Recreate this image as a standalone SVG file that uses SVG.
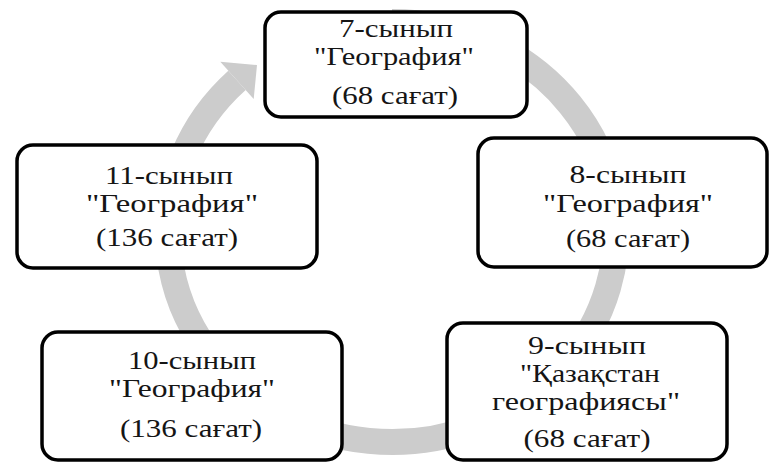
<svg xmlns="http://www.w3.org/2000/svg" width="769" height="463" viewBox="0 0 769 463">
<style>
.box{fill:#ffffff;stroke:#000000;stroke-width:3.5}
.t{font-family:"Liberation Serif","Times New Roman",serif;font-size:25px;fill:#151515;text-anchor:middle}
.ring{fill:none;stroke:#cccccc;stroke-width:26}
.head{fill:#cccccc}
</style>
<rect width="769" height="463" fill="#ffffff"/>
<g id="connectors">
<path class="ring" d="M 392 22 A 224 210 0 1 1 237 80.4"/>
<polygon class="head" points="220.3,61.8 257,65 253.7,99"/>
</g>
<g id="node7">
<rect class="box" x="265" y="12" width="262" height="105" rx="16"/>
<text class="t" x="396" y="37" textLength="114" lengthAdjust="spacingAndGlyphs">7-сынып</text>
<text class="t" x="394" y="65" textLength="160" lengthAdjust="spacingAndGlyphs">"География"</text>
<text class="t" x="395" y="104" textLength="126" lengthAdjust="spacingAndGlyphs">(68 сағат)</text>
</g>
<g id="node8">
<rect class="box" x="478" y="138" width="289" height="129" rx="16"/>
<text class="t" x="628" y="183" textLength="117" lengthAdjust="spacingAndGlyphs">8-сынып</text>
<text class="t" x="628" y="212" textLength="170" lengthAdjust="spacingAndGlyphs">"География"</text>
<text class="t" x="628" y="247" textLength="124" lengthAdjust="spacingAndGlyphs">(68 сағат)</text>
</g>
<g id="node9">
<rect class="box" x="447" y="323" width="280" height="137" rx="16"/>
<text class="t" x="587" y="354" textLength="118" lengthAdjust="spacingAndGlyphs">9-сынып</text>
<text class="t" x="590" y="382" textLength="140" lengthAdjust="spacingAndGlyphs">"Қазақстан</text>
<text class="t" x="586" y="410" textLength="188" lengthAdjust="spacingAndGlyphs">географиясы"</text>
<text class="t" x="587" y="447" textLength="127" lengthAdjust="spacingAndGlyphs">(68 сағат)</text>
</g>
<g id="node10">
<rect class="box" x="42" y="332" width="300" height="128" rx="16"/>
<text class="t" x="192" y="369" textLength="128" lengthAdjust="spacingAndGlyphs">10-сынып</text>
<text class="t" x="192" y="397" textLength="166" lengthAdjust="spacingAndGlyphs">"География"</text>
<text class="t" x="191" y="437" textLength="142" lengthAdjust="spacingAndGlyphs">(136 сағат)</text>
</g>
<g id="node11">
<rect class="box" x="17" y="145" width="300" height="123" rx="16"/>
<text class="t" x="169" y="184" textLength="128" lengthAdjust="spacingAndGlyphs">11-сынып</text>
<text class="t" x="172" y="212" textLength="172" lengthAdjust="spacingAndGlyphs">"География"</text>
<text class="t" x="167" y="246" textLength="142" lengthAdjust="spacingAndGlyphs">(136 сағат)</text>
</g>
</svg>
